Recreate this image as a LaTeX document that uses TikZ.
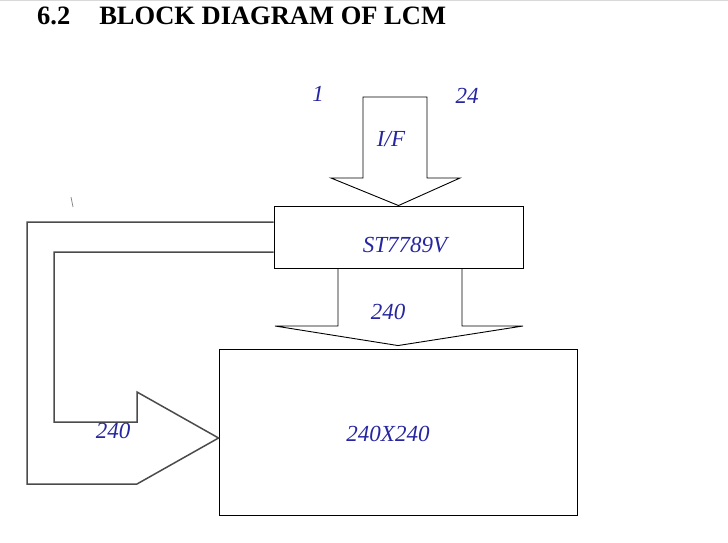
\documentclass[tikz,border=0pt]{standalone}
\usepackage{fontspec}
\setmainfont{Liberation Serif}
\usetikzlibrary{positioning,calc}
\definecolor{lcdblue}{RGB}{38,38,160}
\definecolor{wire}{RGB}{75,75,75}
\tikzset{
  blk/.style={draw=black,line width=0.9pt,inner sep=0pt,minimum width=#1},
  blk/.default=20pt,
  fat arrow/.style={draw=black,line width=0.9pt,line join=miter},
  loop arrow/.style={draw=wire,line width=1.5pt,line join=miter},
  tag/.style={anchor=base,text=lcdblue,font=\fontsize{23}{26}\selectfont\itshape,inner sep=0pt},
  head/.style={anchor=base west,font=\fontsize{26.5}{30}\selectfont\bfseries,inner sep=0pt}
}
\begin{document}
\begin{tikzpicture}[x=1pt,y=-1pt]
  \useasboundingbox (0,0) rectangle (728,543);
  \draw[black!15,line width=0.8pt] (0,0.6) -- (728,0.6);
  \node[head] (title) at (37,25) {6.2\hspace{29pt}BLOCK DIAGRAM OF LCM};
  % the two blocks
  \node[blk=249pt,minimum height=62pt] (ic) at (398.5,237) {};
  \node[blk=358pt,minimum height=166pt] (lcd) at (398,432) {};
  \node[tag] (iclbl) at (405,252) {ST7789V};
  \node[tag] (lcdlbl) at (388,441) {240X240};
  % interface arrow into the controller
  \draw[fat arrow] (363,97) -- (427,97) -- (427,178) -- (460,178) -- (ic.north)
    -- (331,178) -- (363,178) -- cycle;
  \node[tag] (one) at (318,101) {1};
  \node[tag] (bus) at (467,103) {24};
  \node[tag] (ifl) at (391,146) {I/F};
  % controller to panel
  \draw[fat arrow] (ic.south -| 338,0) -- (338,326) -- (275,326) -- ([yshift=3pt]lcd.north)
    -- (523,326) -- (462,326) -- (ic.south -| 462,0);
  \node[tag] (src) at (388,319) {240};
  % return path round the left side
  \coordinate (tip) at (lcd.west |- 0,438);
  \draw[loop arrow] (ic.west |- 0,222) -- (27,222) -- (27,484) -- (137,484) -- (tip)
    -- (137,392) -- (137,422) -- (54,422) -- (54,252) -- (ic.west |- 0,252);
  \node[tag] (gate) at (113,438) {240};
  \draw[wire!70,line width=0.7pt] (71,197) -- (73,207);
\end{tikzpicture}
\end{document}
